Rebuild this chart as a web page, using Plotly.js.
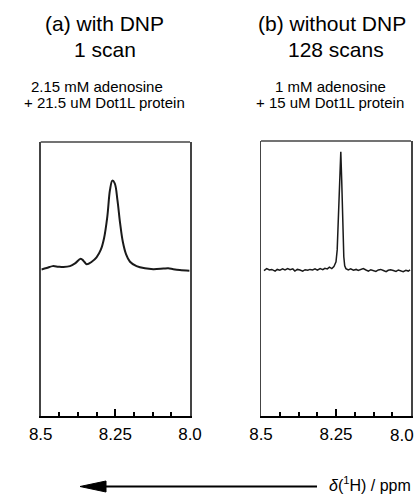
<!DOCTYPE html>
<html>
<head>
<meta charset="utf-8">
<script src="https://cdn.plot.ly/plotly-3.0.1.min.js"></script>
<style>html,body{margin:0;padding:0;background:#fff;}#chart{width:417px;height:495px;}</style>
</head>
<body>
<div id="chart"></div>
<script>
// ---- Data (chemical shift in ppm, intensity in arbitrary units) ----
const shiftA = [8.497, 8.480, 8.460, 8.441, 8.424, 8.402, 8.385, 8.366, 8.357, 8.346, 8.329, 8.313, 8.299, 8.288, 8.277, 8.268, 8.260, 8.252, 8.243, 8.234, 8.225, 8.214, 8.201, 8.179, 8.151, 8.123, 8.089, 8.073, 8.056, 8.034, 8.002];
const intensityA = [53.5, 54.0, 54.7, 54.5, 54.4, 54.7, 55.7, 57.4, 56.7, 55.4, 56.3, 57.9, 60.6, 64.8, 72.7, 82.5, 85.9, 84.9, 78.8, 70.3, 63.6, 59.0, 56.3, 54.7, 53.9, 53.6, 53.8, 53.9, 53.6, 53.3, 53.0];

const shiftB = [8.490, 8.481, 8.472, 8.464, 8.453, 8.446, 8.437, 8.428, 8.420, 8.411, 8.403, 8.394, 8.387, 8.379, 8.370, 8.361, 8.353, 8.344, 8.337, 8.328, 8.320, 8.312, 8.303, 8.294, 8.287, 8.279, 8.272, 8.264, 8.257, 8.250, 8.246, 8.241, 8.238, 8.234, 8.231, 8.228, 8.224, 8.221, 8.217, 8.209, 8.201, 8.192, 8.183, 8.176, 8.168, 8.159, 8.150, 8.142, 8.134, 8.126, 8.117, 8.109, 8.101, 8.092, 8.083, 8.076, 8.068, 8.059, 8.050, 8.042, 8.034, 8.026, 8.017, 8.009, 8.003];
const intensityB = [52.9, 53.6, 53.1, 53.3, 52.7, 53.3, 53.0, 53.5, 53.1, 53.6, 53.2, 53.5, 52.7, 53.3, 53.1, 52.7, 53.2, 53.0, 53.3, 53.1, 53.5, 53.0, 53.6, 53.2, 53.7, 53.5, 54.1, 53.6, 54.3, 56.1, 60.4, 74.9, 85.8, 96.1, 85.8, 68.9, 57.9, 54.6, 53.6, 53.1, 53.5, 53.0, 53.3, 52.9, 53.2, 53.6, 53.1, 52.7, 53.2, 53.0, 52.6, 53.1, 53.3, 52.9, 52.5, 53.0, 53.2, 52.9, 52.6, 53.1, 52.9, 52.5, 53.0, 52.7, 53.1];

const tickValues = [8.5, 8.25, 8.0];
const tickLabels = ['8.5', '8.25', '8.0'];

const titlesA = ['(a) with DNP', '1 scan'];
const samplesA = ['2.15 mM adenosine', '+ 21.5 uM Dot1L protein'];
const titlesB = ['(b) without DNP', '128 scans'];
const samplesB = ['1 mM adenosine', '+ 15 uM Dot1L protein'];
const axisLabel = '<i>δ</i>(<sup>1</sup>H) / ppm';

// ---- Layout helpers ----
const W = 417, H = 495;
const px = x => x / W;
const py = y => 1 - y / H;
const FONT = 'Liberation Sans, Arial, sans-serif';

const traces = [
  {x: shiftA, y: intensityA, xaxis: 'x', yaxis: 'y', type: 'scatter', mode: 'lines',
   line: {color: '#1a1a1a', width: 2, shape: 'spline', smoothing: 1}, hoverinfo: 'skip'},
  {x: shiftB, y: intensityB, xaxis: 'x2', yaxis: 'y2', type: 'scatter', mode: 'lines',
   line: {color: '#1a1a1a', width: 1.5}, hoverinfo: 'skip'}
];

function xAxis(domain, anchor, labels) {
  return {
    domain: domain, anchor: anchor, range: [8.5, 8.0], autorange: false,
    tickmode: 'array', tickvals: tickValues, ticktext: labels,
    ticks: 'inside', ticklen: 7, tickwidth: 2, tickcolor: '#000',
    ticklabelstandoff: 2,
    minor: {tickmode: 'linear', tick0: 8.0, dtick: 0.0625, ticks: 'inside', ticklen: 4, tickwidth: 2, tickcolor: '#000', showgrid: false},
    showline: true, linecolor: '#000', linewidth: 2,
    showgrid: false, zeroline: false, fixedrange: true,
    tickfont: {family: FONT, size: 17, color: '#000'}
  };
}
function yAxis(domain, anchor) {
  return {
    domain: domain, anchor: anchor, range: [0, 100], autorange: false,
    showticklabels: false, ticks: '', showline: true, mirror: true,
    linecolor: '#444', linewidth: 1.5, showgrid: false, zeroline: false, fixedrange: true
  };
}

const ann = (text, x, y, size) => ({
  text: text, x: px(x), y: py(y), xref: 'paper', yref: 'paper',
  xanchor: 'center', yanchor: 'middle', showarrow: false,
  font: {family: FONT, size: size, color: '#000'}
});

// panel b: last tick label sits at the right edge of the figure, drawn flush right
const labelsB = tickLabels.map((t, i) => i === tickLabels.length - 1 ? '' : t);

const annotations = [
  ann(titlesA[0], 104, 24, 21), ann(titlesA[1], 105, 50, 21),
  ann(samplesA[0], 97, 86, 15), ann(samplesA[1], 104, 102, 15),
  ann(titlesB[0], 332, 24, 21), ann(titlesB[1], 336, 50, 21),
  ann(samplesB[0], 330, 86, 15), ann(samplesB[1], 330, 102, 15),
  {text: tickLabels[tickLabels.length - 1], x: 1, y: py(435), xref: 'paper', yref: 'paper',
   xanchor: 'right', yanchor: 'middle', showarrow: false, xshift: -1,
   font: {family: FONT, size: 17, color: '#000'}},
  {text: axisLabel, x: px(413), y: py(484), xref: 'paper', yref: 'paper',
   xanchor: 'right', yanchor: 'middle', showarrow: false,
   font: {family: FONT, size: 16, color: '#000'}}
];

const shapes = [
  {type: 'line', xref: 'x domain', yref: 'y domain', x0: 0, x1: 1, y0: 1, y1: 1, line: {color: '#444', width: 1.5}},
  {type: 'line', xref: 'x2 domain', yref: 'y2 domain', x0: 0, x1: 1, y0: 1, y1: 1, line: {color: '#444', width: 1.5}},
  {type: 'line', xref: 'paper', yref: 'paper', x0: px(104), x1: px(317), y0: py(486.5), y1: py(486.5), line: {color: '#000', width: 2}},
  {type: 'path', xref: 'paper', yref: 'paper',
   path: `M ${px(80)},${py(486.5)} L ${px(106)},${py(481)} L ${px(106)},${py(492)} Z`,
   fillcolor: '#000', line: {color: '#000', width: 1}}
];

const layout = {
  width: W, height: H, margin: {l: 0, r: 0, t: 0, b: 0},
  paper_bgcolor: '#fff', plot_bgcolor: 'rgba(0,0,0,0)', showlegend: false,
  xaxis: xAxis([40.7 / W, 190 / W], 'y', tickLabels),
  yaxis: yAxis([1 - 416 / H, 1 - 142 / H], 'x'),
  xaxis2: xAxis([261 / W, 411 / W], 'y2', labelsB),
  yaxis2: yAxis([1 - 416 / H, 1 - 141 / H], 'x2'),
  annotations: annotations, shapes: shapes
};

Plotly.newPlot('chart', traces, layout, {staticPlot: true, displayModeBar: false});
</script>
</body>
</html>
